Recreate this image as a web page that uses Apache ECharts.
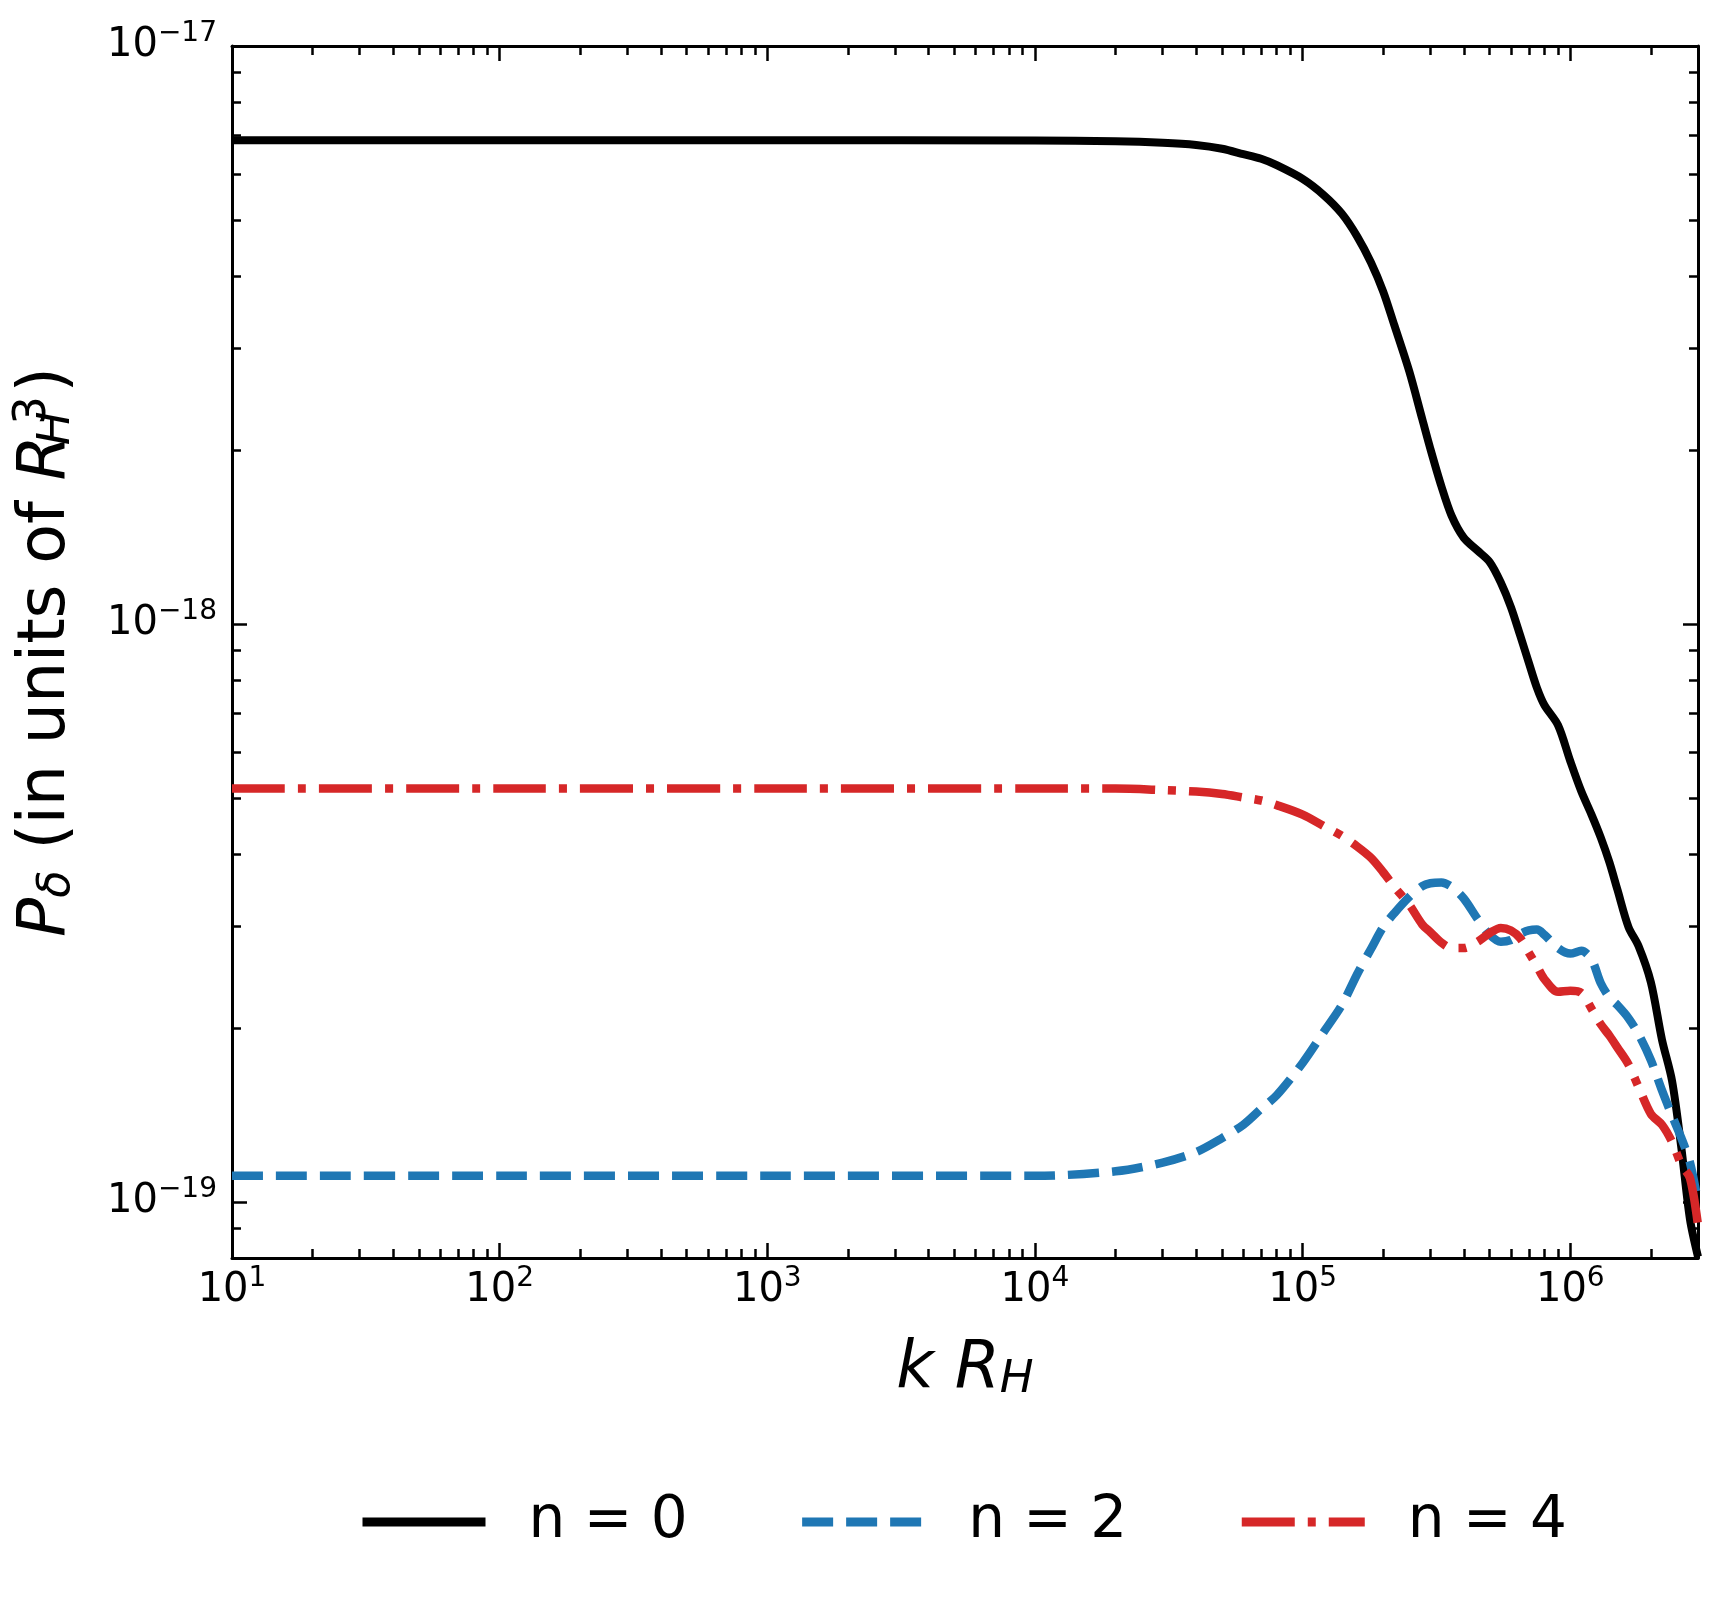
<!DOCTYPE html>
<html>
<head>
<meta charset="utf-8">
<script src="https://cdn.jsdelivr.net/npm/echarts@6/dist/echarts.min.js"></script>
<style>
html, body { margin: 0; padding: 0; background: #fff; }
#chart { width: 1728px; height: 1604px; }
</style>
</head>
<body>
<div id="chart"></div>
<script>
// k R_H sample points (shared by the three curves)
var kValues = [1e1, 1e2, 1e3, 1e4, 2e4, 3e4, 4e4, 5e4, 6e4, 7e4, 8e4,
  1e5, 1.2e5, 1.4e5, 1.6e5, 1.8e5, 2e5, 2.2e5, 2.5e5, 2.8e5, 3e5, 3.3e5, 3.6e5, 4e5, 4.5e5, 5e5, 5.5e5, 6e5, 6.5e5, 7e5, 7.5e5, 8e5, 9e5,
  1e6, 1.1e6, 1.2e6, 1.3e6, 1.4e6, 1.5e6, 1.65e6, 1.8e6, 2e6, 2.2e6, 2.4e6, 2.6e6, 2.8e6, 3e6];

// P_delta for n = 0
var pN0 = [6.87e-18, 6.87e-18, 6.87e-18, 6.86e-18, 6.84e-18, 6.80e-18, 6.74e-18, 6.64e-18, 6.50e-18, 6.38e-18, 6.22e-18,
  5.89e-18, 5.52e-18, 5.13e-18, 4.68e-18, 4.22e-18, 3.76e-18, 3.29e-18, 2.74e-18, 2.26e-18, 2.01e-18, 1.73e-18, 1.54e-18, 1.41e-18, 1.34e-18, 1.28e-18, 1.18e-18, 1.07e-18, 9.55e-19, 8.57e-19, 7.76e-19, 7.24e-19, 6.68e-19,
  5.79e-19, 5.13e-19, 4.68e-19, 4.27e-19, 3.87e-19, 3.47e-19, 2.99e-19, 2.77e-19, 2.40e-19, 1.91e-19, 1.62e-19, 1.24e-19, 9.33e-20, 8.04e-20];

// P_delta for n = 2
var pN2 = [1.11e-19, 1.11e-19, 1.11e-19, 1.11e-19, 1.13e-19, 1.17e-19, 1.22e-19, 1.29e-19, 1.36e-19, 1.45e-19, 1.53e-19,
  1.74e-19, 1.97e-19, 2.19e-19, 2.48e-19, 2.74e-19, 2.99e-19, 3.16e-19, 3.37e-19, 3.52e-19, 3.56e-19, 3.57e-19, 3.51e-19, 3.35e-19, 3.09e-19, 2.90e-19, 2.82e-19, 2.84e-19, 2.91e-19, 2.95e-19, 2.96e-19, 2.90e-19, 2.75e-19,
  2.69e-19, 2.72e-19, 2.63e-19, 2.39e-19, 2.26e-19, 2.19e-19, 2.08e-19, 1.95e-19, 1.76e-19, 1.56e-19, 1.41e-19, 1.29e-19, 1.17e-19, 1.00e-19];

// P_delta for n = 4
var pN4 = [5.19e-19, 5.19e-19, 5.19e-19, 5.19e-19, 5.19e-19, 5.16e-19, 5.13e-19, 5.08e-19, 5.01e-19, 4.95e-19, 4.86e-19,
  4.68e-19, 4.47e-19, 4.30e-19, 4.12e-19, 3.94e-19, 3.72e-19, 3.51e-19, 3.27e-19, 3.02e-19, 2.93e-19, 2.81e-19, 2.75e-19, 2.75e-19, 2.82e-19, 2.92e-19, 2.98e-19, 2.95e-19, 2.86e-19, 2.70e-19, 2.56e-19, 2.43e-19, 2.31e-19,
  2.32e-19, 2.30e-19, 2.16e-19, 2.03e-19, 1.94e-19, 1.85e-19, 1.73e-19, 1.58e-19, 1.42e-19, 1.36e-19, 1.27e-19, 1.16e-19, 1.10e-19, 9.12e-20];

var seriesNames = ['n = 0', 'n = 2', 'n = 4'];

// ticks
var xMajor = [1e1, 1e2, 1e3, 1e4, 1e5, 1e6];
var xMajorExp = ['1', '2', '3', '4', '5', '6'];
var xMinor = [2e1, 3e1, 4e1, 5e1, 6e1, 7e1, 8e1, 9e1,
  2e2, 3e2, 4e2, 5e2, 6e2, 7e2, 8e2, 9e2,
  2e3, 3e3, 4e3, 5e3, 6e3, 7e3, 8e3, 9e3,
  2e4, 3e4, 4e4, 5e4, 6e4, 7e4, 8e4, 9e4,
  2e5, 3e5, 4e5, 5e5, 6e5, 7e5, 8e5, 9e5,
  2e6];
var yMajor = [1e-19, 1e-18, 1e-17];
var yMajorExp = ['\u221219', '\u221218', '\u221217'];
var yMinor = [9e-20,
  2e-19, 3e-19, 4e-19, 5e-19, 6e-19, 7e-19, 8e-19, 9e-19,
  2e-18, 3e-18, 4e-18, 5e-18, 6e-18, 7e-18, 8e-18, 9e-18];

var FONT = 'DejaVu Sans';
var tickRich = {
  b: { fontFamily: FONT, fontSize: 40, color: '#000' },
  s: { fontFamily: FONT, fontSize: 28, color: '#000', padding: [0, 0, 24, 0] }
};

function powLabel(ticks, exps) {
  return function (v) {
    for (var i = 0; i < ticks.length; i++) {
      if (Math.abs(v / ticks[i] - 1) < 1e-6) return '{b|10}{s|' + exps[i] + '}';
    }
    return '';
  };
}

function makeAxis(kind, pos, ticks, len, withLine, label) {
  var ax = {
    type: 'log',
    position: pos,
    axisLine: { show: withLine, onZero: false, lineStyle: { color: '#000', width: 3 } },
    axisTick: { show: true, inside: true, length: len, customValues: ticks, lineStyle: { color: '#000', width: 2.5 } },
    axisLabel: { show: false },
    splitLine: { show: false },
    minorTick: { show: false }
  };
  if (kind === 'x') { ax.min = 10; ax.max = 3e6; } else { ax.min = 8e-20; ax.max = 1e-17; }
  if (label) {
    ax.axisLabel = label;
  }
  return ax;
}

var xAxes = [
  makeAxis('x', 'bottom', xMajor, 15, true, {
    show: true, customValues: xMajor, margin: 7,
    formatter: powLabel(xMajor, xMajorExp), rich: tickRich
  }),
  makeAxis('x', 'bottom', xMinor, 9, false),
  makeAxis('x', 'top', xMajor, 15, true),
  makeAxis('x', 'top', xMinor, 9, false)
];
xAxes[0].name = '{i|k}{n| }{i|R}{sub|H}';
xAxes[0].nameLocation = 'middle';
xAxes[0].nameGap = 80;
xAxes[0].nameTextStyle = {
  rich: {
    i: { fontFamily: FONT, fontStyle: 'italic', fontSize: 65, color: '#000' },
    n: { fontFamily: FONT, fontSize: 65, color: '#000' },
    sub: { fontFamily: FONT, fontStyle: 'italic', fontSize: 45, color: '#000', padding: [20, 0, 0, 0] }
  }
};

// H subscript and 3 superscript stacked after R
var yNameRich = {
  i: { fontFamily: FONT, fontStyle: 'italic', fontSize: 65, color: '#000' },
  n: { fontFamily: FONT, fontSize: 65, color: '#000' },
  sp: { fontFamily: FONT, fontSize: 20, width: 7, color: '#000' },
  sub: { fontFamily: FONT, fontStyle: 'italic', fontSize: 45, color: '#000', padding: [20, 0, 0, 0] },
  subz: { fontFamily: FONT, fontStyle: 'italic', fontSize: 45, color: '#000', width: 0, align: 'left', padding: [20, 0, 0, 0] },
  sup: { fontFamily: FONT, fontSize: 45, color: '#000', width: 36, align: 'left', padding: [0, 0, 28, 0] }
};
var yNameText = '{i|P}{sub|\u03b4}{n| (in units of }{i|R}{sp| }{subz|H}{sup|3}{n|)}';

var yAxes = [
  makeAxis('y', 'left', yMajor, 15, true, {
    show: true, customValues: yMajor, margin: 15,
    formatter: powLabel(yMajor, yMajorExp), rich: tickRich
  }),
  makeAxis('y', 'left', yMinor, 9, false),
  makeAxis('y', 'right', yMajor, 15, true),
  makeAxis('y', 'right', yMinor, 9, false)
];
yAxes[0].name = yNameText;
yAxes[0].nameLocation = 'middle';
yAxes[0].nameGap = 148;
yAxes[0].nameTextStyle = { rich: yNameRich };

function pairs(ys) {
  return kValues.map(function (k, i) { return [k, ys[i]]; });
}

var myChart = echarts.init(document.getElementById('chart'), null, { renderer: 'canvas' });

var option = {
  backgroundColor: '#fff',
  animation: false,
  grid: { left: 232, top: 46, width: 1466, height: 1212, containLabel: false },
  xAxis: xAxes,
  yAxis: yAxes,
  legend: {
    data: seriesNames,
    left: 353,
    top: 1488,
    itemWidth: 123,
    itemHeight: 30,
    itemGap: 110,
    itemStyle: { opacity: 0 },
    lineStyle: { width: 9, cap: 'butt' },
    textStyle: { fontFamily: FONT, fontSize: 58, color: '#000', padding: [0, 0, 0, 38] }
  },
  series: [
    {
      name: seriesNames[0],
      type: 'line',
      symbol: 'none',
      smooth: 0.3,
      data: pairs(pN0),
      lineStyle: { color: '#000000', width: 8, cap: 'butt', join: 'round' },
      itemStyle: { color: '#000000' }
    },
    {
      name: seriesNames[1],
      type: 'line',
      symbol: 'none',
      smooth: 0.3,
      data: pairs(pN2),
      lineStyle: { color: '#1f77b4', width: 8.5, type: [31, 13], cap: 'butt', join: 'round' },
      itemStyle: { color: '#1f77b4' }
    },
    {
      name: seriesNames[2],
      type: 'line',
      symbol: 'none',
      smooth: 0.3,
      data: pairs(pN4),
      lineStyle: { color: '#d62728', width: 8.5, type: [53, 13, 8, 13], cap: 'butt', join: 'round' },
      itemStyle: { color: '#d62728' }
    }
  ]
};

myChart.setOption(option);
</script>
</body>
</html>
